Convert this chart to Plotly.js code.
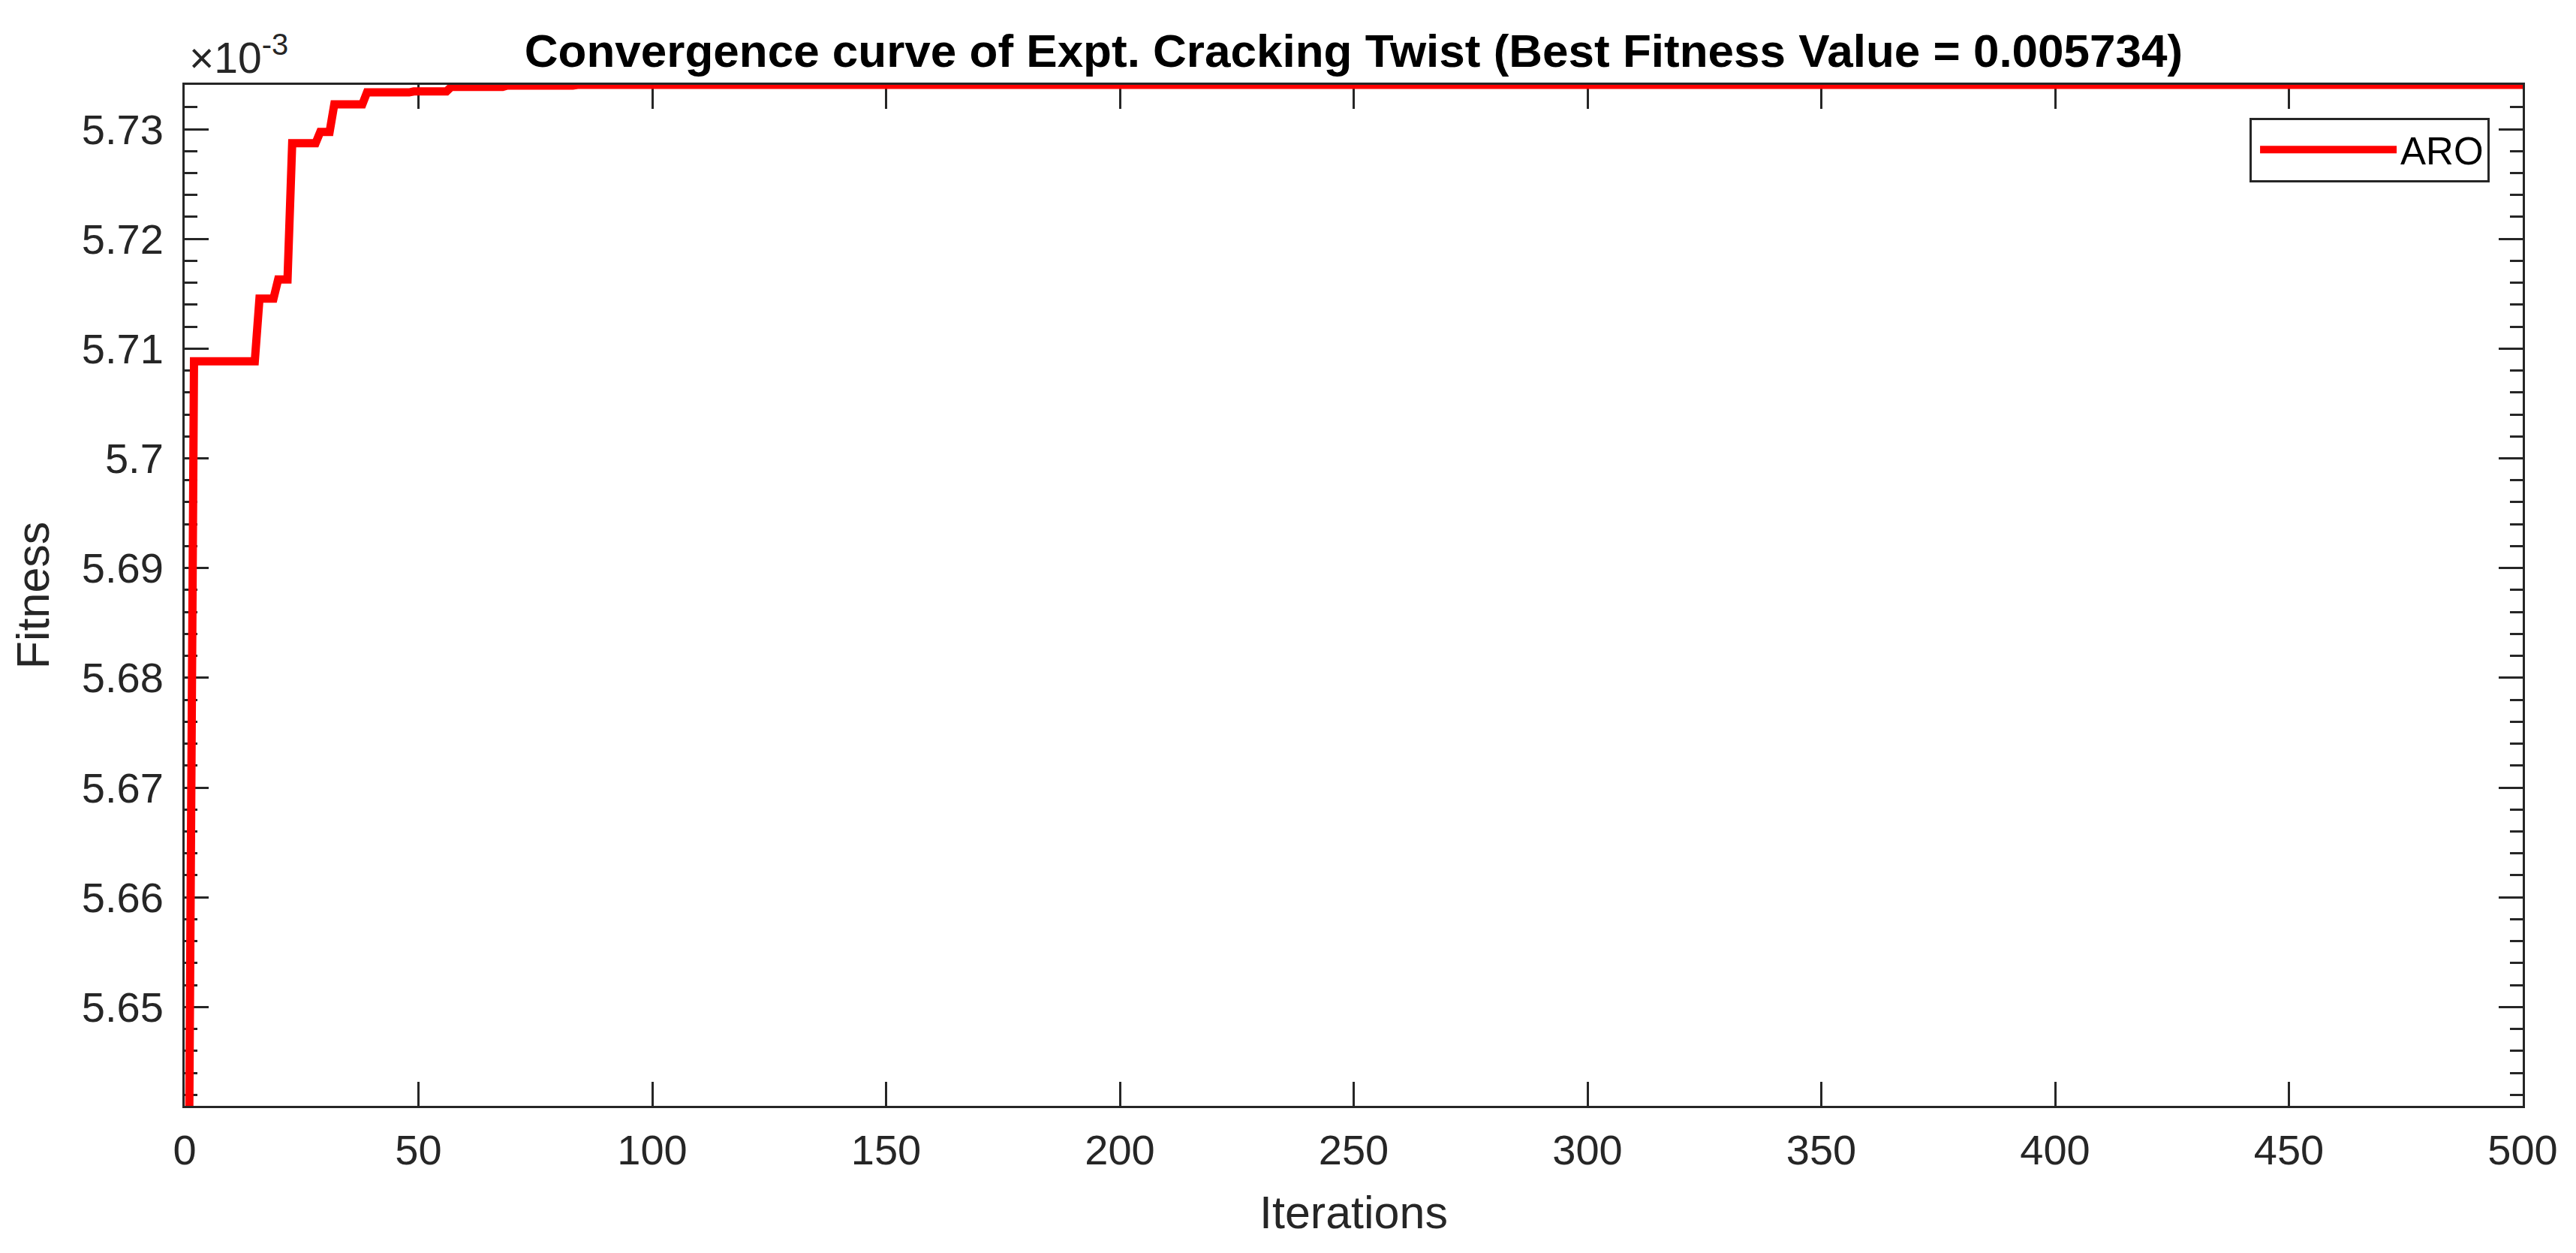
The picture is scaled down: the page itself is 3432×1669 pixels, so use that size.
<!DOCTYPE html>
<html>
<head>
<meta charset="utf-8">
<script src="https://cdn.plot.ly/plotly-3.0.1.min.js"></script>
<style>
  html, body { margin: 0; padding: 0; background: #ffffff; }
  #chart { width: 3432px; height: 1669px; }
</style>
</head>
<body>
<div id="chart"></div>
<script>
// ---- Data ----
// Iterations at which the best fitness changes (values are constant between them)
const iterations = [1, 2, 15, 16, 19, 20, 22, 23, 28, 29, 31, 32, 38, 39, 48, 49, 56, 57, 68, 69, 83, 84, 500];
const fitness = [
  5.64099e-3, 5.70884e-3, 5.70884e-3, 5.71456e-3, 5.71456e-3, 5.71631e-3, 5.71631e-3,
  5.72872e-3, 5.72872e-3, 5.72975e-3, 5.72975e-3, 5.73226e-3, 5.73226e-3, 5.73335e-3,
  5.73335e-3, 5.73344e-3, 5.73344e-3, 5.73385e-3, 5.73385e-3, 5.73397e-3, 5.73397e-3,
  5.73404e-3, 5.73404e-3
];
const seriesName = 'ARO';
const bestFitnessLabel = '0.005734';

const xTickVals = [0, 50, 100, 150, 200, 250, 300, 350, 400, 450, 500];
const xTickLabels = ['0', '50', '100', '150', '200', '250', '300', '350', '400', '450', '500'];
const yTickVals = [5.65e-3, 5.66e-3, 5.67e-3, 5.68e-3, 5.69e-3, 5.70e-3, 5.71e-3, 5.72e-3, 5.73e-3];
const yTickLabels = ['5.65', '5.66', '5.67', '5.68', '5.69', '5.7', '5.71', '5.72', '5.73'];

const FONT = 'Liberation Sans, Arial, Helvetica, sans-serif';
const AX = '#262626';

const trace = {
  x: iterations,
  y: fitness,
  type: 'scatter',
  mode: 'lines',
  name: seriesName,
  line: { color: '#FF0000', width: 11 }
};

const layout = {
  width: 3432,
  height: 1669,
  paper_bgcolor: '#ffffff',
  plot_bgcolor: '#ffffff',
  margin: { l: 246, r: 71, t: 113, b: 196, pad: 0 },
  showlegend: true,
  title: {
    text: 'Convergence curve of Expt. Cracking Twist (Best Fitness Value = ' + bestFitnessLabel + ')',
    font: { family: FONT, size: 62, color: '#000000', weight: 'bold' },
    x: 0.5, xref: 'paper', xanchor: 'center',
    y: 1, yref: 'paper', yanchor: 'bottom',
    pad: { b: 24 }
  },
  xaxis: {
    range: [0, 500],
    tickmode: 'array',
    tickvals: xTickVals,
    ticktext: xTickLabels,
    ticks: 'inside',
    ticklen: 32,
    tickwidth: 3,
    tickcolor: AX,
    showline: true,
    linecolor: AX,
    linewidth: 3,
    mirror: 'ticks',
    showgrid: false,
    zeroline: false,
    layer: 'below traces',
    ticklabelstandoff: 8,
    tickfont: { family: FONT, size: 56, color: AX },
    title: { text: 'Iterations', font: { family: FONT, size: 61, color: AX }, standoff: 32 }
  },
  yaxis: {
    range: [5.64099e-3, 5.73404e-3],
    tickmode: 'array',
    tickvals: yTickVals,
    ticktext: yTickLabels,
    ticks: 'inside',
    ticklen: 32,
    tickwidth: 3,
    tickcolor: AX,
    minor: { tickmode: 'linear', tick0: 5.64e-3, dtick: 2e-6, ticks: 'inside', ticklen: 17, tickwidth: 3, tickcolor: AX, showgrid: false },
    showline: true,
    linecolor: AX,
    linewidth: 3,
    mirror: 'ticks',
    showgrid: false,
    zeroline: false,
    layer: 'below traces',
    ticklabelstandoff: 14,
    tickfont: { family: FONT, size: 56, color: AX },
    title: { text: 'Fitness', font: { family: FONT, size: 61, color: AX }, standoff: 24 }
  },
  legend: {
    x: 0.9859, xanchor: 'right', xref: 'paper',
    y: 0.968, yanchor: 'top', yref: 'paper',
    bgcolor: '#ffffff',
    bordercolor: AX,
    borderwidth: 3,
    font: { family: FONT, size: 51, color: '#000000' },
    itemwidth: 182,
    indentation: 6
  },
  annotations: [
    {
      text: '×10<sup>-3</sup>',
      xref: 'paper', yref: 'paper',
      x: 0, y: 1,
      xanchor: 'left', yanchor: 'bottom',
      xshift: 4, yshift: 2,
      showarrow: false,
      font: { family: FONT, size: 57, color: AX }
    }
  ]
};

Plotly.newPlot('chart', [trace], layout, { displayModeBar: false, staticPlot: true });
</script>
</body>
</html>
